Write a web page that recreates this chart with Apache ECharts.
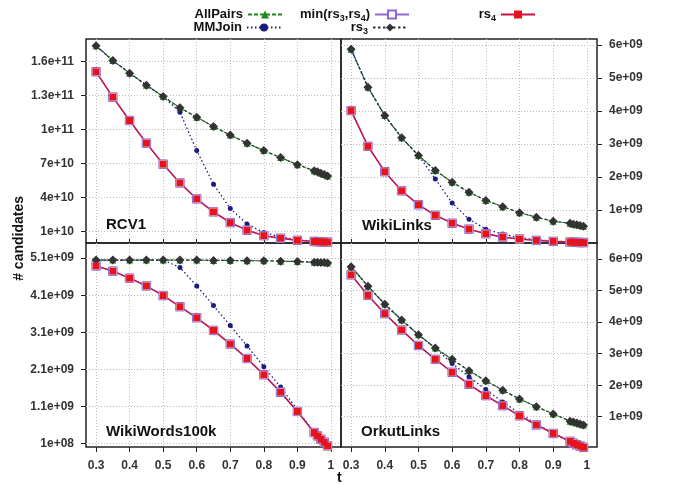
<!DOCTYPE html>
<html><head><meta charset="utf-8">
<script src="https://cdn.jsdelivr.net/npm/echarts@6/dist/echarts.min.js"></script>
<style>html,body{margin:0;padding:0;background:#fff}#c{width:675px;height:485px}</style>
</head><body><div id="c"></div>
<script>
// threshold t
const t = [0.3,0.35,0.4,0.45,0.5,0.55,0.6,0.65,0.7,0.75,0.8,0.85,0.9,0.95,0.96,0.97,0.98,0.99];

// RCV1
const rcv1_allpairs = [17.4e10,16.1e10,14.98e10,13.92e10,12.91e10,11.91e10,11.09e10,10.26e10,9.5e10,8.79e10,8.13e10,7.51e10,6.89e10,6.36e10,6.25e10,6.13e10,6.01e10,5.89e10];
const rcv1_mmjoin   = [17.4e10,16.1e10,14.98e10,13.92e10,12.91e10,11.53e10,8.13e10,5.16e10,3.0e10,1.65e10,0.88e10,0.5e10,0.25e10,0.12e10,0.1e10,0.08e10,0.06e10,0.05e10];
const rcv1_min      = [15.1e10,12.86e10,10.79e10,8.79e10,6.93e10,5.27e10,3.86e10,2.71e10,1.76e10,1.09e10,0.61e10,0.38e10,0.2e10,0.1e10,0.08e10,0.06e10,0.05e10,0.04e10];
const rcv1_rs3      = [17.4e10,16.1e10,14.98e10,13.92e10,12.91e10,11.91e10,11.09e10,10.26e10,9.5e10,8.79e10,8.13e10,7.51e10,6.89e10,6.36e10,6.25e10,6.13e10,6.01e10,5.89e10];
const rcv1_rs4      = [15.1e10,12.86e10,10.79e10,8.79e10,6.93e10,5.27e10,3.86e10,2.71e10,1.76e10,1.09e10,0.61e10,0.38e10,0.2e10,0.1e10,0.08e10,0.06e10,0.05e10,0.04e10];

// WikiLinks
const wl_allpairs = [5.87e9,4.72e9,3.86e9,3.19e9,2.65e9,2.2e9,1.84e9,1.54e9,1.29e9,1.1e9,0.92e9,0.78e9,0.66e9,0.6e9,0.57e9,0.55e9,0.53e9,0.51e9];
const wl_mmjoin   = [5.87e9,4.72e9,3.86e9,3.19e9,2.65e9,1.94e9,1.21e9,0.72e9,0.42e9,0.27e9,0.16e9,0.1e9,0.06e9,0.035e9,0.03e9,0.025e9,0.02e9,0.015e9];
const wl_min      = [4.01e9,2.93e9,2.16e9,1.58e9,1.16e9,0.84e9,0.6e9,0.42e9,0.28e9,0.18e9,0.12e9,0.08e9,0.05e9,0.03e9,0.025e9,0.02e9,0.015e9,0.01e9];
const wl_rs3      = [5.87e9,4.72e9,3.86e9,3.19e9,2.65e9,2.2e9,1.84e9,1.54e9,1.29e9,1.1e9,0.92e9,0.78e9,0.66e9,0.6e9,0.57e9,0.55e9,0.53e9,0.51e9];
const wl_rs4      = [4.01e9,2.93e9,2.16e9,1.58e9,1.16e9,0.84e9,0.6e9,0.42e9,0.28e9,0.18e9,0.12e9,0.08e9,0.05e9,0.03e9,0.025e9,0.02e9,0.015e9,0.01e9];

// WikiWords100k
const ww_allpairs = [5.05e9,5.05e9,5.05e9,5.05e9,5.05e9,5.05e9,5.05e9,5.04e9,5.04e9,5.03e9,5.03e9,5.02e9,5.01e9,4.99e9,4.99e9,4.98e9,4.98e9,4.97e9];
const ww_mmjoin   = [5.05e9,5.05e9,5.05e9,5.05e9,5.05e9,4.85e9,4.35e9,3.82e9,3.28e9,2.73e9,2.17e9,1.62e9,1.0e9,0.4e9,0.31e9,0.22e9,0.14e9,0.04e9];
const ww_min      = [4.89e9,4.75e9,4.56e9,4.35e9,4.09e9,3.79e9,3.49e9,3.15e9,2.78e9,2.39e9,1.95e9,1.48e9,0.96e9,0.39e9,0.3e9,0.21e9,0.13e9,0.03e9];
const ww_rs3      = [5.05e9,5.05e9,5.05e9,5.05e9,5.05e9,5.05e9,5.05e9,5.04e9,5.04e9,5.03e9,5.03e9,5.02e9,5.01e9,4.99e9,4.99e9,4.98e9,4.98e9,4.97e9];
const ww_rs4      = [4.89e9,4.75e9,4.56e9,4.35e9,4.09e9,3.79e9,3.49e9,3.15e9,2.78e9,2.39e9,1.95e9,1.48e9,0.96e9,0.39e9,0.3e9,0.21e9,0.13e9,0.03e9];

// OrkutLinks
const ok_allpairs = [5.76e9,5.14e9,4.57e9,4.07e9,3.6e9,3.18e9,2.82e9,2.46e9,2.14e9,1.84e9,1.56e9,1.32e9,1.09e9,0.86e9,0.83e9,0.8e9,0.77e9,0.74e9];
const ok_mmjoin   = [5.76e9,5.14e9,4.57e9,4.07e9,3.6e9,3.18e9,2.69e9,2.27e9,1.86e9,1.47e9,1.11e9,0.77e9,0.47e9,0.22e9,0.16e9,0.11e9,0.07e9,0.03e9];
const ok_min      = [5.5e9,4.85e9,4.27e9,3.75e9,3.26e9,2.82e9,2.41e9,2.03e9,1.67e9,1.35e9,1.03e9,0.74e9,0.47e9,0.22e9,0.16e9,0.11e9,0.07e9,0.03e9];
const ok_rs3      = [5.76e9,5.14e9,4.57e9,4.07e9,3.6e9,3.18e9,2.82e9,2.46e9,2.14e9,1.84e9,1.56e9,1.32e9,1.09e9,0.86e9,0.83e9,0.8e9,0.77e9,0.74e9];
const ok_rs4      = [5.5e9,4.85e9,4.27e9,3.75e9,3.26e9,2.82e9,2.41e9,2.03e9,1.67e9,1.35e9,1.03e9,0.74e9,0.47e9,0.22e9,0.16e9,0.11e9,0.07e9,0.03e9];

// ticks and tick labels
const xTicks = [0.3,0.4,0.5,0.6,0.7,0.8,0.9,1.0];
const xTickLabels = ['0.3','0.4','0.5','0.6','0.7','0.8','0.9','1'];
const rcv1Ticks = [1e10,4e10,7e10,1e11,1.3e11,1.6e11];
const rcv1TickLabels = ['1e+10','4e+10','7e+10','1e+11','1.3e+11','1.6e+11'];
const wlTicks = [1e9,2e9,3e9,4e9,5e9,6e9];
const wlTickLabels = ['1e+09','2e+09','3e+09','4e+09','5e+09','6e+09'];
const wwTicks = [1e8,1.1e9,2.1e9,3.1e9,4.1e9,5.1e9];
const wwTickLabels = ['1e+08','1.1e+09','2.1e+09','3.1e+09','4.1e+09','5.1e+09'];
const okTicks = [1e9,2e9,3e9,4e9,5e9,6e9];
const okTickLabels = ['1e+09','2e+09','3e+09','4e+09','5e+09','6e+09'];

const panelNames = ['RCV1','WikiLinks','WikiWords100k','OrkutLinks'];
const seriesNames = ['AllPairs','MMJoin','min(rs3,rs4)','rs3','rs4'];

const FONT = '"Liberation Sans", Arial, sans-serif';
const panels = [
  {data:[rcv1_allpairs,rcv1_mmjoin,rcv1_min,rcv1_rs3,rcv1_rs4], ticks:rcv1Ticks, labels:rcv1TickLabels, min:-4e8, max:1.8e11, pos:'left', grid:{left:86,top:39,width:255,height:204}, bottom:false},
  {data:[wl_allpairs,wl_mmjoin,wl_min,wl_rs3,wl_rs4], ticks:wlTicks, labels:wlTickLabels, min:0, max:6.18e9, pos:'right', grid:{left:341,top:39,width:256,height:204}, bottom:false},
  {data:[ww_allpairs,ww_mmjoin,ww_min,ww_rs3,ww_rs4], ticks:wwTicks, labels:wwTickLabels, min:0, max:5.51e9, pos:'left', grid:{left:86,top:243,width:255,height:204}, bottom:true},
  {data:[ok_allpairs,ok_mmjoin,ok_min,ok_rs3,ok_rs4], ticks:okTicks, labels:okTickLabels, min:0.04e9, max:6.51e9, pos:'right', grid:{left:341,top:243,width:256,height:204}, bottom:true}
];

const styles = [
  {color:'#1e8a1e', line:{color:'#1e8a1e', width:1.2, type:[4,2]}, symbol:'triangle', size:7, item:{color:'#1e8a1e'}},
  {color:'#1c1c80', line:{color:'#1c1c80', width:1.3, type:[1.5,2.5]}, symbol:'circle', size:5, item:{color:'#1c1c80'}},
  {color:'#8e6ad4', line:{color:'#8e6ad4', width:1.5, type:'solid'}, symbol:'rect', size:8.5, item:{color:'#fff', borderColor:'#8e6ad4', borderWidth:1}},
  {color:'#333333', line:{color:'#333333', width:1.2, type:[2.5,2.5]}, symbol:'diamond', size:9, item:{color:'#333333'}},
  {color:'#e4141c', line:{color:'#cc1040', width:1.3, type:'solid'}, symbol:'rect', size:7, item:{color:'#e4141c'}}
];

const grids = [], xAxes = [], yAxes = [], series = [];
panels.forEach((p, pi) => {
  grids.push(Object.assign({show:true, borderColor:'#222', borderWidth:1.5, backgroundColor:'transparent'}, p.grid));
  xAxes.push({
    gridIndex:pi, type:'value', min:0.27, max:1.03,
    axisLine:{show:false, onZero:false},
    axisTick:{show:true, customValues:xTicks, inside:!p.bottom, length:p.bottom?5:4, lineStyle:{color:'#222'}},
    axisLabel:{show:p.bottom, customValues:xTicks, margin:13, fontFamily:FONT, fontWeight:'bold', fontSize:12, color:'#333',
      formatter:(v)=>{const i=xTicks.findIndex(x=>Math.abs(x-v)<1e-6); return i>=0?xTickLabels[i]:'';}},
    splitLine:{show:true, lineStyle:{color:'#bbbbbb', type:[1,2], width:1}}
  });
  yAxes.push({
    gridIndex:pi, type:'value', min:p.min, max:p.max, position:p.pos,
    axisLine:{show:false, onZero:false},
    axisTick:{show:true, customValues:p.ticks, length:5, lineStyle:{color:'#222'}},
    axisLabel:{customValues:p.ticks, margin:12, fontFamily:FONT, fontWeight:'bold', fontSize:12, color:'#333',
      formatter:(v)=>{const i=p.ticks.findIndex(x=>Math.abs(x-v)<Math.abs(x)*1e-6); return i>=0?p.labels[i]:'';}},
    splitLine:{show:true, lineStyle:{color:'#bbbbbb', type:[1,2], width:1}}
  });
  p.data.forEach((arr, si) => {
    const s = styles[si];
    series.push({
      name:seriesNames[si], type:'line', xAxisIndex:pi, yAxisIndex:pi,
      data:t.map((x,i)=>[x,arr[i]]),
      color:s.color, lineStyle:s.line, itemStyle:s.item,
      symbol:s.symbol, symbolSize:s.size, showSymbol:true, animation:false, silent:true,
      clip:false
    });
  });
});

function lg(name, right, top){
  return {
    data:[name], right:right, top:top, orient:'horizontal', align:'right',
    itemWidth:34, itemHeight:10, padding:0, selectedMode:false,
    textStyle:{fontFamily:FONT, fontWeight:'bold', fontSize:13, color:'#111',
      rich:{a:{fontFamily:FONT, fontWeight:'bold', fontSize:13, color:'#111'},
            s:{fontFamily:FONT, fontWeight:'bold', fontSize:9, color:'#111', verticalAlign:'bottom', padding:[8,0,0,0]}}},
    formatter:(n)=>{
      if(n==='min(rs3,rs4)') return '{a|min(rs}{s|3}{a|,rs}{s|4}{a|)}';
      if(n==='rs3') return '{a|rs}{s|3}';
      if(n==='rs4') return '{a|rs}{s|4}';
      return '{a|'+n+'}';
    }
  };
}

const titles = [
  {text:panelNames[0], left:106, top:217},
  {text:panelNames[1], left:362, top:218},
  {text:panelNames[2], left:106, top:424},
  {text:panelNames[3], left:361, top:424}
].map(o=>Object.assign(o,{padding:0, textStyle:{fontFamily:FONT, fontWeight:'bold', fontSize:15, color:'#111'}}));

const chart = echarts.init(document.getElementById('c'), null, {renderer:'canvas'});
chart.setOption({
  animation:false,
  backgroundColor:'#fff',
  title:titles,
  legend:[lg('AllPairs',392,8), lg('MMJoin',393,21), lg('min(rs3,rs4)',265,8), lg('rs3',267,21), lg('rs4',139,8)],
  grid:grids, xAxis:xAxes, yAxis:yAxes, series:series,
  graphic:[
    {type:'text', left:12, top:196, rotation:Math.PI/2, style:{text:'# candidates', font:'bold 14px '+FONT, fill:'#111'}},
    {type:'text', left:337, top:471, style:{text:'t', font:'bold 14px '+FONT, fill:'#111'}}
  ]
});
</script></body></html>
